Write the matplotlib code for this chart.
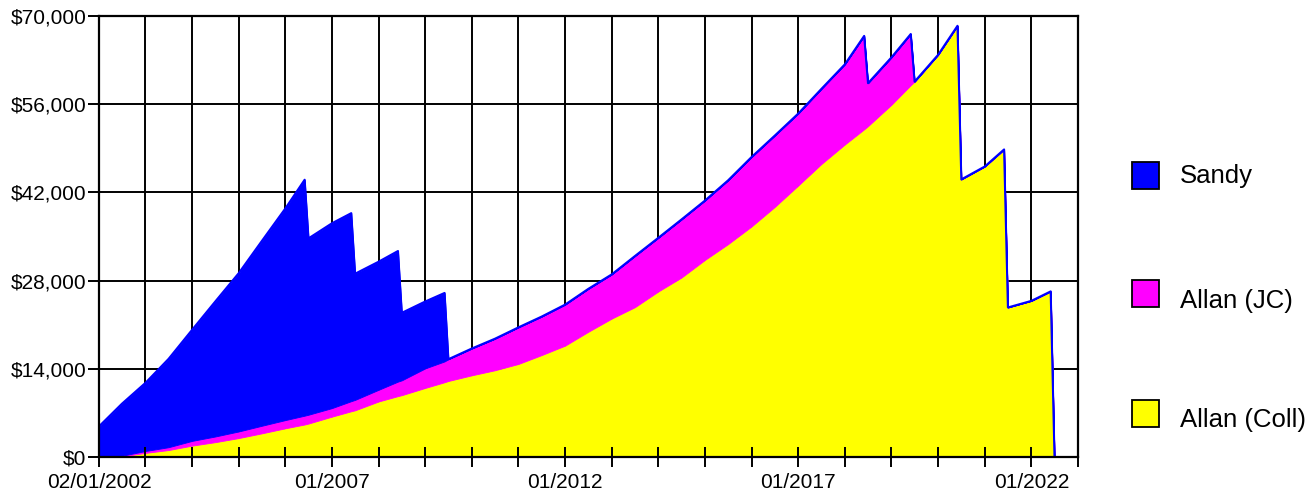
import pandas as pd
import matplotlib
matplotlib.use("Agg")
import matplotlib.pyplot as plt
from matplotlib.patches import Rectangle
from matplotlib.ticker import StrMethodFormatter

plt.rcParams["font.family"] = ["Liberation Sans", "DejaVu Sans"]

# breakpoints (peaks in June, drops in July)
dates = [
    "2002-01-02", "2002-07-01", "2003-01-01", "2003-07-01", "2004-01-01",
    "2004-07-01", "2005-01-01", "2005-07-01", "2006-01-01", "2006-06-01",
    "2006-07-01", "2007-01-01", "2007-06-01", "2007-07-01", "2008-01-01",
    "2008-06-01", "2008-07-01", "2009-01-01", "2009-06-01", "2009-07-01",
    "2010-01-01", "2010-07-01", "2011-01-01", "2011-07-01", "2012-01-01",
    "2012-07-01", "2013-01-01", "2013-07-01", "2014-01-01", "2014-07-01",
    "2015-01-01", "2015-07-01", "2016-01-01", "2016-07-01", "2017-01-01",
    "2017-07-01", "2018-01-01", "2018-06-01", "2018-07-01", "2019-01-01",
    "2019-06-01", "2019-07-01", "2020-01-01", "2020-06-01", "2020-07-01",
    "2021-01-01", "2021-06-01", "2021-07-01", "2022-01-01", "2022-06-01",
    "2022-07-01",
]

sandy = [4900, 8250, 10800, 14000, 17600, 21400, 25100, 29300, 33550, 37400,
         27950, 29300, 29800, 20000, 20300, 20700, 10700, 10600, 10850, 0] + [0] * 31

allan_jc = [0, 100, 300, 450, 750, 900, 1050, 1200, 1300, 1400,
            1400, 1350, 1600, 1650, 1850, 2300, 2350, 3100, 3300, 3450,
            4250, 5000, 5800, 6100, 6500, 6800, 7000, 8100, 8500, 9200,
            9400, 10100, 11000, 11300, 11400, 11900, 12700, 14800, 6800, 7500,
            8100, 0] + [0] * 9

allan_coll = [0, 150, 700, 1150, 1850, 2400, 3050, 3800, 4600, 5200,
              5350, 6450, 7300, 7450, 8850, 9700, 9850, 11000, 11900, 12100,
              13000, 13800, 14800, 16200, 17700, 19900, 22000, 23800, 26300, 28500,
              31300, 33800, 36600, 39700, 43100, 46500, 49600, 52000, 52500, 55900,
              59000, 59550, 63800, 68400, 44050, 46100, 48800, 23750, 24800, 26300,
              0]

names = ["Sandy", "Allan (JC)", "Allan (Coll)"]
colours = ["#0000ff", "#ff00ff", "#ffff00"]

y_ticks = [0, 14000, 28000, 42000, 56000, 70000]
x_ticks = ["2002-01-02"] + [f"{y}-01-01" for y in range(2003, 2024)]
x_labels = {"2002-01-02": "02/01/2002", "2007-01-01": "01/2007",
            "2012-01-01": "01/2012", "2017-01-01": "01/2017",
            "2022-01-01": "01/2022"}

x = pd.to_datetime(dates)
xt = pd.to_datetime(x_ticks)

fig = plt.figure(figsize=(13.15, 4.95), dpi=100)
ax = fig.add_axes([99 / 1315, 1 - 457.3 / 495, (1078 - 99) / 1315, (457.3 - 15.7) / 495])

# grid behind the areas, ticks stay on top
for d in xt:
    ax.axvline(d, color="black", lw=1.4, zorder=0.5)
for v in y_ticks:
    ax.axhline(v, color="black", lw=1.4, zorder=0.5)

ax.stackplot(x, allan_coll, allan_jc, sandy,
             colors=[colours[2], colours[1], colours[0]],
             edgecolor="face", linewidth=0.6, zorder=1)

total = [a + b + c for a, b, c in zip(allan_coll, allan_jc, sandy)]
ax.plot(x, total, color="#0000ff", lw=1.5, zorder=2)

ax.set_xlim(xt[0], xt[-1])
ax.set_ylim(0, 70000)
ax.set_yticks(y_ticks)
ax.yaxis.set_major_formatter(StrMethodFormatter("${x:,.0f}"))
ax.set_xticks(xt)
ax.set_xticklabels([x_labels.get(t, "") for t in x_ticks])

ax.tick_params(axis="x", direction="inout", length=15, width=1.4, pad=3.5, labelsize=15)
ax.tick_params(axis="y", direction="out", length=8, width=1.4, pad=1, labelsize=15)
for s in ax.spines.values():
    s.set_linewidth(1.6)
    s.set_zorder(3)

# legend on the right
box_y = [175, 293, 413]
text_y = [182.7, 308.3, 427.3]
for name, col, by, ty in zip(names, colours, box_y, text_y):
    fig.add_artist(Rectangle((1132 / 1315, 1 - (by + 13.5) / 495), 27 / 1315, 27 / 495,
                             transform=fig.transFigure, facecolor=col,
                             edgecolor="black", lw=1.3))
    fig.text(1180 / 1315, 1 - ty / 495, name, fontsize=18.5, va="baseline", ha="left")

fig.savefig("out.png", dpi=100)
